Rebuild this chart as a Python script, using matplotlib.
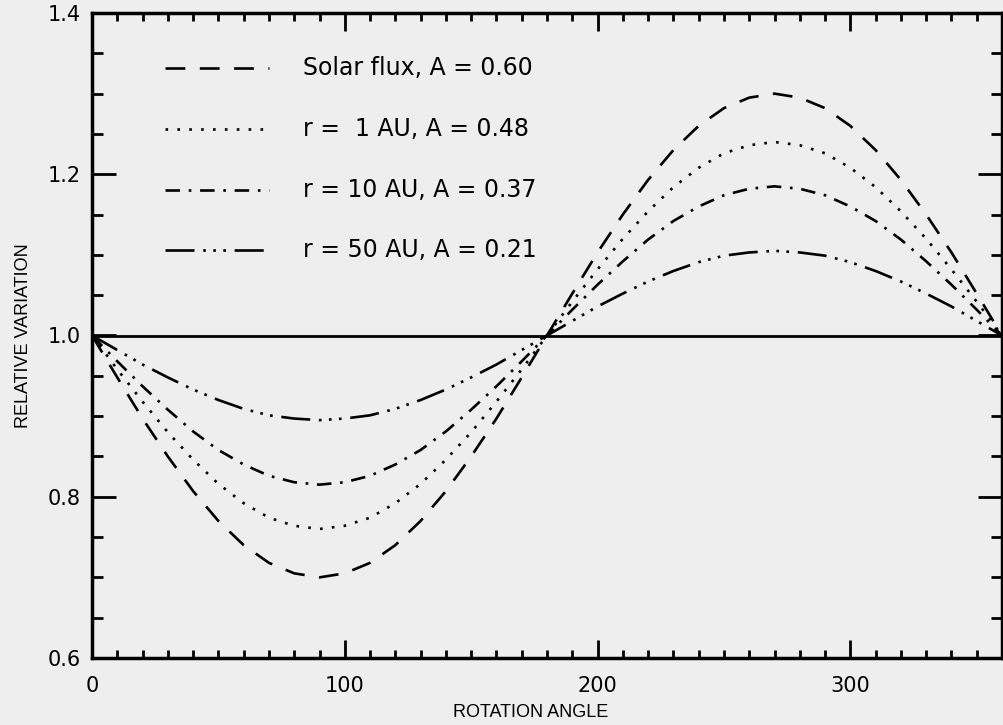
import numpy as np
import matplotlib
matplotlib.use('Agg')
import matplotlib.pyplot as plt
from matplotlib.ticker import MultipleLocator, FormatStrFormatter

# rotation angle samples (deg) and relative variation
angle = list(range(0, 361, 10))

solar = [1.000, 0.948, 0.897, 0.850, 0.807, 0.770, 0.740, 0.718, 0.705, 0.700,
         0.705, 0.718, 0.740, 0.770, 0.807, 0.850, 0.897, 0.948, 1.000,
         1.052, 1.103, 1.150, 1.193, 1.230, 1.260, 1.282, 1.295, 1.300,
         1.295, 1.282, 1.260, 1.230, 1.193, 1.150, 1.103, 1.052, 1.000]
r1 = [1.000, 0.958, 0.918, 0.880, 0.846, 0.816, 0.792, 0.774, 0.764, 0.760,
      0.764, 0.774, 0.792, 0.816, 0.846, 0.880, 0.918, 0.958, 1.000,
      1.042, 1.082, 1.120, 1.154, 1.184, 1.208, 1.226, 1.236, 1.240,
      1.236, 1.226, 1.208, 1.184, 1.154, 1.120, 1.082, 1.042, 1.000]
r10 = [1.000, 0.968, 0.937, 0.908, 0.881, 0.858, 0.840, 0.826, 0.818, 0.815,
       0.818, 0.826, 0.840, 0.858, 0.881, 0.908, 0.937, 0.968, 1.000,
       1.032, 1.063, 1.092, 1.119, 1.142, 1.160, 1.174, 1.182, 1.185,
       1.182, 1.174, 1.160, 1.142, 1.119, 1.092, 1.063, 1.032, 1.000]
r50 = [1.000, 0.982, 0.964, 0.948, 0.933, 0.920, 0.909, 0.901, 0.897, 0.895,
       0.897, 0.901, 0.909, 0.920, 0.933, 0.948, 0.964, 0.982, 1.000,
       1.018, 1.036, 1.052, 1.067, 1.080, 1.091, 1.099, 1.103, 1.105,
       1.103, 1.099, 1.091, 1.080, 1.067, 1.052, 1.036, 1.018, 1.000]

labels = ['Solar flux, A = 0.60', 'r =  1 AU, A = 0.48',
          'r = 10 AU, A = 0.37', 'r = 50 AU, A = 0.21']

bg = '#eeeeee'
plt.rcParams['font.family'] = ['DejaVu Sans']

fig = plt.figure(figsize=(10.04, 7.25), dpi=100, facecolor=bg)
ax = fig.add_axes([92 / 1004, 1 - 658 / 725, 910 / 1004, 645 / 725])
ax.set_facecolor(bg)

styles = [(0, (7.5, 5.5)),
          (0, (1, 3.5)),
          (0, (5.5, 3.3, 1, 3.3)),
          (0, (11, 3.3, 1, 2.8, 1, 2.8, 1, 3.3))]
series = [solar, r1, r10, r50]
for y, ls in zip(series, styles):
    ax.plot(angle, y, color='k', lw=1.9, linestyle=ls, dash_capstyle='butt')

ax.plot([0, 360], [1.0, 1.0], color='k', lw=2)

ax.set_xlim(0, 360)
ax.set_ylim(0.6, 1.4)
ax.xaxis.set_major_locator(MultipleLocator(100))
ax.xaxis.set_minor_locator(MultipleLocator(10))
ax.yaxis.set_major_locator(MultipleLocator(0.2))
ax.yaxis.set_minor_locator(MultipleLocator(0.05))
ax.yaxis.set_major_formatter(FormatStrFormatter('%.1f'))
ax.tick_params(which='both', direction='in', top=True, right=True, width=2,
               labelsize=15)
ax.tick_params(axis='x', which='major', length=13, pad=13)
ax.tick_params(axis='x', which='minor', length=6)
ax.tick_params(axis='y', which='major', length=17, pad=8)
ax.tick_params(axis='y', which='minor', length=8)
for s in ax.spines.values():
    s.set_linewidth(2.5)

ax.set_xlabel('ROTATION ANGLE', fontsize=13, family='Liberation Sans')
ax.xaxis.set_label_coords(0.482, -0.072)
ax.set_ylabel('RELATIVE VARIATION', fontsize=13, family='Liberation Sans')
ax.yaxis.set_label_coords(-0.066, 0.5)

# legend drawn as in the original: short line samples followed by text
leg_y = [1.332, 1.256, 1.1805, 1.106]
for yy, ls, lab in zip(leg_y, styles, labels):
    ax.plot([29, 70], [yy, yy], color='k', lw=1.9, linestyle=ls,
            dash_capstyle='butt')
    ax.text(83.5, yy, lab, fontsize=17, va='center', ha='left')

fig.savefig('out.png', dpi=100, facecolor=bg)
